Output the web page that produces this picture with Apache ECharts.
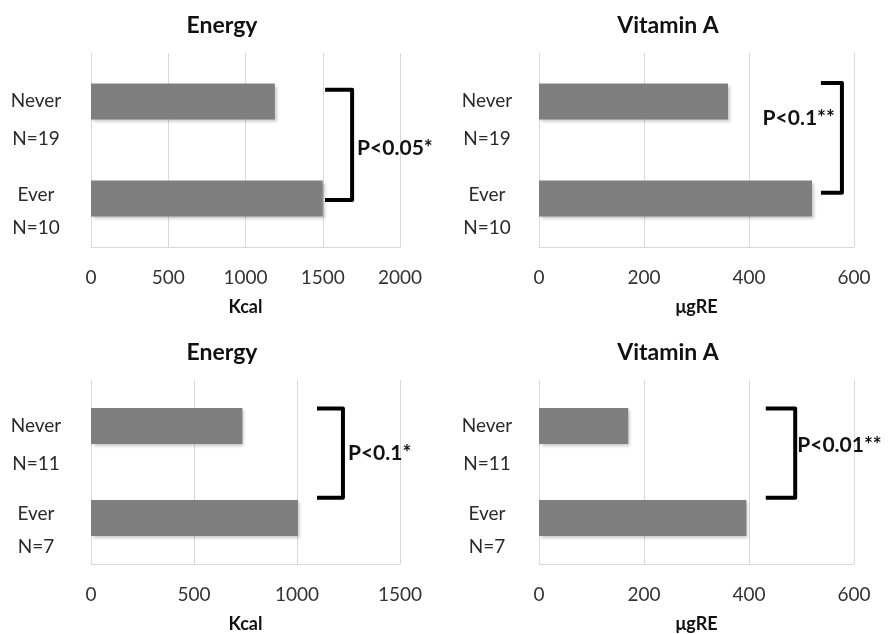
<!DOCTYPE html>
<html>
<head>
<meta charset="utf-8">
<script src="https://cdn.jsdelivr.net/npm/echarts@6/dist/echarts.min.js"></script>
<style>html,body{margin:0;padding:0;background:#fff}#c{width:891px;height:634px}</style>
</head>
<body>
<div id="c"></div>
<script>
// ---- data ----
const categories = ['Never', 'Ever'];
const panelTitles = ['Energy', 'Vitamin A', 'Energy', 'Vitamin A'];
const unitNames = ['Kcal', 'μgRE', 'Kcal', 'μgRE'];
const groupN = [['N=19', 'N=10'], ['N=19', 'N=10'], ['N=11', 'N=7'], ['N=11', 'N=7']];
const energyTop = [1190, 1500];
const vitATop = [360, 520];
const energyBottom = [735, 1005];
const vitABottom = [170, 395];
const axisMax = [2000, 600, 1500, 600];
const axisStep = [500, 200, 500, 200];
const pLabels = ['P<0.05*', 'P<0.1**', 'P<0.1*', 'P<0.01**'];
// bracket: [arm start value, vertical line value]
const bracketTL = [1515, 1690];
const bracketTR = [537, 577];
const bracketBL = [1097, 1223];
const bracketBR = [432, 488];

const seriesValues = [energyTop, vitATop, energyBottom, vitABottom];
const brackets = [bracketTL, bracketTR, bracketBL, bracketBR];

// ---- layout / style ----
const FONT = 'Lato, "Open Sans", sans-serif';
const grids = [
  {left: 91, top: 53, width: 309, height: 194},
  {left: 539, top: 53, width: 315, height: 194},
  {left: 91, top: 380, width: 309, height: 185},
  {left: 539, top: 380, width: 315, height: 185}
];
const titlePos = [{x: 217, y: 9}, {x: 663, y: 9}, {x: 217, y: 336}, {x: 663, y: 336}];
const labelMargin = [27, 24, 27, 24];
// bracket vertical extent offsets (fraction of band) & text placement
const bracketStyle = [
  {d0: -0.12, d1: 0.015, tx: 5, ty: 3, align: 'left'},
  {d0: -0.19, d1: -0.06, tx: -7, ty: -20, align: 'right'},
  {d0: -0.19, d1: -0.22, tx: 5, ty: 0, align: 'left'},
  {d0: -0.19, d1: -0.22, tx: 2, ty: -8, align: 'left'}
];

const chart = echarts.init(document.getElementById('c'));

const labelText = {fontFamily: FONT, fontSize: 19, color: '#2a2a2a', width: 56, align: 'center'};

const option = {
  backgroundColor: '#fff',
  animation: false,
  title: panelTitles.map((t, i) => ({
    text: t, left: titlePos[i].x, top: titlePos[i].y, textAlign: 'center',
    textStyle: {fontFamily: FONT, fontWeight: 'bold', fontSize: 23, color: '#111'}
  })),
  grid: grids.map(g => Object.assign({containLabel: false}, g)),
  xAxis: grids.map((g, i) => ({
    type: 'value', gridIndex: i, min: 0, max: axisMax[i], interval: axisStep[i],
    name: unitNames[i], nameLocation: 'middle', nameGap: 51,
    nameTextStyle: {fontFamily: FONT, fontWeight: 'bold', fontSize: 18, color: '#111'},
    axisLine: {show: true, lineStyle: {color: '#d9d9d9', width: 1}},
    axisTick: {show: false},
    axisLabel: {fontFamily: FONT, fontSize: 19, color: '#333', margin: 21, formatter: v => String(v)},
    splitLine: {show: true, lineStyle: {color: '#d9d9d9', width: 1}}
  })),
  yAxis: grids.map((g, i) => ({
    type: 'category', gridIndex: i, data: categories, inverse: true,
    axisLine: {show: true, lineStyle: {color: '#d9d9d9', width: 1}},
    axisTick: {show: false},
    splitLine: {show: false},
    axisLabel: {
      margin: labelMargin[i],
      formatter: (v, idx) => idx === 0
        ? '{s0| }\n{a0|' + v + '}\n{a0|' + groupN[i][idx] + '}'
        : '{s1| }\n{a1|' + v + '}\n{a1|' + groupN[i][idx] + '}',
      rich: {
        s0: {lineHeight: 37, fontSize: 4, width: 56},
        s1: {lineHeight: 25, fontSize: 4, width: 56},
        a0: Object.assign({lineHeight: 38}, labelText),
        a1: Object.assign({lineHeight: 33}, labelText)
      }
    }
  })),
  series: []
};

seriesValues.forEach((vals, i) => {
  option.series.push({
    type: 'bar', xAxisIndex: i, yAxisIndex: i, data: vals, barWidth: 36,
    itemStyle: {color: '#7f7f7f', shadowColor: 'rgba(0,0,0,0.22)', shadowBlur: 3, shadowOffsetX: 2, shadowOffsetY: 2}
  });
  const st = bracketStyle[i];
  option.series.push({
    type: 'custom', xAxisIndex: i, yAxisIndex: i, clip: false, z: 10,
    data: [[brackets[i][0], 0, brackets[i][1]]],
    encode: {x: [0, 2], y: 1},
    renderItem: function (params, api) {
      const band = api.size([0, 1])[1];
      const a = api.coord([api.value(0), 0]);
      const b = api.coord([api.value(2), 1]);
      const xA = a[0], xV = b[0];
      const yT = a[1] + st.d0 * band;
      const yB = b[1] + st.d1 * band;
      return {
        type: 'group',
        children: [
          {type: 'polyline', shape: {points: [[xA, yT], [xV, yT], [xV, yB], [xA, yB]]},
           style: {stroke: '#000', lineWidth: 4, fill: null, lineJoin: 'round', lineCap: 'butt'}},
          {type: 'text', x: xV + st.tx, y: (yT + yB) / 2 + st.ty,
           style: {text: pLabels[i], fontFamily: FONT, fontWeight: 'bold', fontSize: 21, fill: '#111',
                   align: st.align, verticalAlign: 'middle'}}
        ]
      };
    }
  });
});

chart.setOption(option);
</script>
</body>
</html>
